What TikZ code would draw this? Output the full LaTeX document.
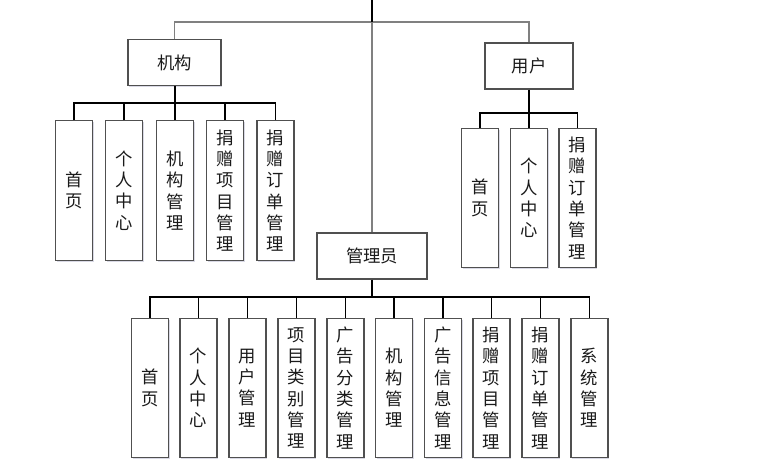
\documentclass[tikz,border=0pt]{standalone}
\usepackage{fontspec}
\setmainfont{Noto Sans CJK SC}
\usetikzlibrary{shadows}
\definecolor{boxline}{HTML}{505050}
\definecolor{topline}{HTML}{808080}
\definecolor{txt}{HTML}{1A1A1A}
\tikzset{
  box/.style={draw=boxline, line width=0.9pt, fill=white, rectangle, inner sep=0pt,
    text=txt, font=\fontsize{13}{16}\selectfont, align=center,
    drop shadow={shadow xshift=1pt, shadow yshift=-1pt, fill=blue!20!gray, opacity=0.25}},
  parentbox/.style={box, minimum height=34.5pt},
  leaf/.style={box, minimum width=27.75pt, minimum height=104.5pt},
  topconn/.style={draw=topline, line width=1pt},
  subconn/.style={draw=black, line width=1pt},
  stem/.style={draw=black, line width=1.5pt},
}
\begin{document}
\begin{tikzpicture}[x=0.75pt, y=-0.75pt]
\useasboundingbox (0,0) rectangle (762,474);
% parents
\node[parentbox, minimum width=69.75pt] (jg) at (174.5,62.5) {机构};
\node[parentbox, minimum width=66pt] (yh) at (529,66) {用户};
\node[parentbox, minimum width=82.5pt] (gly) at (372,256) {管理员};
% jg children
\node[leaf] (j1) at (74,190.5) {首\\页};
\node[leaf] (j2) at (124,190.5) {个\\人\\中\\心};
\node[leaf] (j3) at (175,190.5) {机\\构\\管\\理};
\node[leaf] (j4) at (225,190.5) {捐\\赠\\项\\目\\管\\理};
\node[leaf] (j5) at (275.5,190.5) {捐\\赠\\订\\单\\管\\理};
% yh children
\node[leaf] (u1) at (480,198) {首\\页};
\node[leaf] (u2) at (529,198) {个\\人\\中\\心};
\node[leaf] (u3) at (577.5,198) {捐\\赠\\订\\单\\管\\理};
% admin children
\node[leaf] (a1) at (150,388) {首\\页};
\node[leaf] (a2) at (198.5,388) {个\\人\\中\\心};
\node[leaf] (a3) at (247.5,388) {用\\户\\管\\理};
\node[leaf] (a4) at (296.5,388) {项\\目\\类\\别\\管\\理};
\node[leaf] (a5) at (345.5,388) {广\\告\\分\\类\\管\\理};
\node[leaf] (a6) at (394,388) {机\\构\\管\\理};
\node[leaf] (a7) at (443,388) {广\\告\\信\\息\\管\\理};
\node[leaf] (a8) at (491.5,388) {捐\\赠\\项\\目\\管\\理};
\node[leaf] (a9) at (540.5,388) {捐\\赠\\订\\单\\管\\理};
\node[leaf] (a10) at (589.5,388) {系\\统\\管\\理};
% coordinates
\coordinate (root) at (372,0);
\coordinate (bus) at (372,22);
\coordinate (jgbus) at (174.5,103);
\coordinate (yhbus) at (529,113);
\coordinate (glybus) at (372,297);
% top level connectors
\draw[topconn] (jg.north) |- (bus) -| (yh.north);
\draw[topconn] (root) -- (gly.north);
\draw[black, line width=1pt] (root) -- (bus);
% jg
\draw[stem] (jg.south) -- (jgbus);
\foreach \c in {j1,j2,j3,j4,j5} \draw[subconn] (\c.north) |- (jgbus);
% yh
\draw[stem] (yh.south) -- (yhbus);
\foreach \c in {u1,u2,u3} \draw[subconn] (\c.north) |- (yhbus);
% gly
\draw[stem] (gly.south) -- (glybus);
\foreach \c in {a1,a2,a3,a4,a5,a6,a7,a8,a9,a10} \draw[subconn] (\c.north) |- (glybus);
\end{tikzpicture}
\end{document}
